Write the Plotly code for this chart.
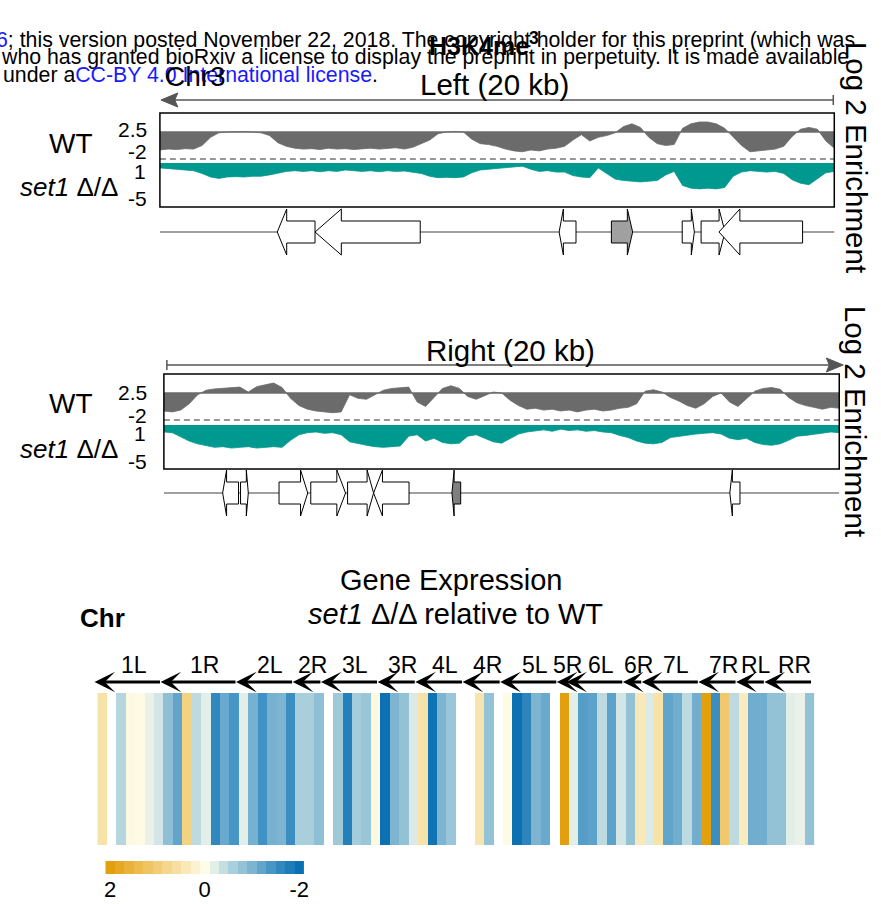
import plotly.graph_objects as go

W, H = 881, 904
FONT = "Liberation Sans, Arial, Helvetica, sans-serif"


def X(p):
    return p / W


def Y(p):
    return 1 - p / H


# ------------------------------------------------------------------ data
# genomic bins (kb) for the 20 kb windows
bins_kb = [i * 0.25 for i in range(81)]

left_wt = [-2.0, -1.9, -1.95, -1.85, -1.9, -1.5, -0.6, -0.1, 0.0, 0.05,
           0.05, 0.0, -0.1, -0.4, -1.2, -1.6, -1.8, -1.9, -1.85, -1.95,
           -1.8, -1.9, -1.85, -1.95, -1.9, -1.8, -1.9, -1.85, -1.75, -1.9,
           -1.7, -1.3, -0.9, -0.2, 0.0, 0.05, 0.0, -0.8, -1.3, -1.4,
           -1.6, -1.9, -2.1, -2.2, -2.0, -2.1, -1.9, -1.8, -1.6, -0.9,
           -0.3, -1.0, -0.6, -0.4, -0.1, 0.6, 0.9, 0.5, -0.6, -1.3,
           -1.5, -1.4, 0.4, 0.9, 1.1, 1.1, 0.9, 0.4, -0.6, -1.5,
           -2.2, -2.1, -2.0, -1.9, -1.6, -0.5, 0.3, 0.5, 0.3, -1.0,
           -1.8]

left_set1 = [-0.7, -0.8, -1.0, -1.0, -1.1, -1.5, -2.0, -2.2, -2.0, -1.95,
             -2.0, -1.9, -1.9, -1.7, -1.4, -1.2, -1.1, -1.2, -1.1, -1.25,
             -1.1, -1.2, -1.0, -1.15, -1.2, -1.1, -1.25, -1.1, -1.2, -1.15,
             -1.3, -1.5, -1.9, -2.1, -2.05, -2.1, -2.0, -1.4, -1.0, -0.9,
             -0.8, -0.75, -0.6, -0.45, -0.9, -1.2, -1.1, -1.3, -1.3, -1.8,
             -2.0, -2.1, -0.7, -1.5, -2.3, -2.5, -2.6, -2.7, -2.6, -2.5,
             -1.7, -1.2, -3.2, -3.6, -3.7, -3.6, -3.7, -3.5, -1.9, -1.3,
             -1.1, -1.2, -1.3, -1.2, -1.5, -2.4, -2.9, -3.1, -2.2, -1.4,
             -1.2]

right_wt = [-2.0, -2.1, -1.9, -1.2, -0.2, 0.3, 0.45, 0.5, 0.55, 0.65,
            0.1, 0.7, 0.9, 1.1, 0.6, -0.6, -1.4, -1.8, -2.0, -2.1,
            -2.2, -2.1, -0.2, -0.6, -0.7, -0.2, 0.3, 0.5, 0.55, 0.65,
            -1.0, -1.5, -0.5, 0.5, 0.8, 0.5, -0.4, -0.7, -0.3, 0.1,
            0.0, -0.8, -1.4, -1.8, -1.7, -1.9, -1.8, -2.0, -1.9, -2.1,
            -1.9, -1.8, -2.0, -1.9, -1.7, -1.6, -1.2, 0.2, 0.35, 0.1,
            -0.5, -0.9, -1.4, -1.7, -1.2, -0.4, 0.0, -1.0, -1.5, -0.6,
            0.2, 0.5, 0.6, 0.4, -0.5, -1.1, -1.4, -1.6, -1.8, -1.6,
            -1.7]

right_set1 = [-1.0, -1.1, -1.7, -2.3, -2.7, -3.0, -3.2, -3.1, -3.3, -3.2,
              -3.1, -3.3, -3.2, -3.1, -3.2, -2.2, -1.4, -1.1, -1.0, -1.2,
              -1.1, -1.4, -2.4, -2.7, -2.9, -3.1, -3.2, -3.1, -3.0, -1.6,
              -1.4, -2.3, -1.9, -2.5, -2.7, -2.6, -1.6, -1.4, -1.9, -2.4,
              -2.6, -2.0, -1.3, -1.0, -0.8, -0.7, -0.9, -0.6, -0.8, -0.7,
              -0.9, -0.8, -1.0, -1.1, -1.5, -1.8, -2.3, -2.6, -2.7, -2.5,
              -1.8, -1.6, -1.4, -1.3, -1.2, -1.1, -1.3, -1.9, -2.1, -1.9,
              -2.5, -2.8, -2.9, -2.7, -2.2, -1.6, -1.5, -1.3, -1.1, -1.0,
              -1.1]

# genes (kb within window)
left_gene_start = [3.48, 4.60, 11.84, 13.39, 15.49, 16.05, 16.58]
left_gene_end = [4.60, 7.72, 12.34, 14.02, 15.85, 16.76, 19.06]
left_gene_strand = ['-', '-', '-', '+', '+', '+', '-']
left_gene_marked = [False, False, False, True, False, False, False]

right_gene_start = [1.74, 2.27, 3.41, 4.35, 5.44, 6.21, 8.53, 16.76]
right_gene_end = [2.21, 2.50, 4.26, 5.38, 6.21, 7.26, 8.79, 17.06]
right_gene_strand = ['-', '+', '+', '+', '+', '-', '-', '-']
right_gene_marked = [False, False, False, False, False, False, True, False]

# gene expression (log2 set1/WT), one value per subtelomeric gene (None = no data)
expr_values = [0.55, None, -0.5, 0.05, 0.02, -0.15, -0.3, -0.85, -1.2, 0.9,
               -0.45, -0.2, -1.6, -1.15, -1.4, -0.2, -1.05, -1.45, -1.05, -1.0,
               -1.5, -0.6, -0.6, -0.85, None, -0.7, -1.75, -0.65, -0.75, 0.05,
               -2.0, -1.0, -0.8, -0.25, 0.55, -1.95, -1.0, -0.75, None, None,
               0.5, -0.8, None, 0.02, -2.0, -1.65, -1.0, -1.15, None, 2.0,
               -0.2, -1.3, -1.25, -0.45, -1.25, -0.3, -0.8, 0.4, -0.25, 0.55,
               -1.2, -1.1, -0.45, -1.1, 2.0, -1.5, 1.1, -0.45, 0.35, -1.1,
               -1.1, -0.8, -0.8, -0.2, -0.15, -0.8]

arm_names = ["1L", "1R", "2L", "2R", "3L", "3R", "4L", "4R", "5L", "5R",
             "6L", "6R", "7L", "7R", "RL", "RR"]
arm_first = [0, 7, 15, 21, 24, 30, 34, 39, 43, 49, 50, 56, 58, 64, 68, 71]
arm_last = [6, 14, 20, 23, 29, 33, 38, 42, 48, 49, 55, 57, 63, 67, 70, 75]

legend_ramp = [2.0, 1.8, 1.6, 1.4, 1.2, 1.0, 0.8, 0.6, 0.4, 0.2, 0.0,
               -0.2, -0.4, -0.6, -0.8, -1.0, -1.2, -1.4, -1.6, -1.8, -2.0]
legend_ticks = [2, 0, -2]
legend_ticktext = ["2", "0", "-2"]

# ------------------------------------------------------------------ styles
GRAY = "#6b6b6b"
TEAL = "#00998f"
COLORSCALE = [[0.0, "#0b71b2"], [0.125, "#3a8ec2"], [0.25, "#7db5d1"],
              [0.375, "#b5d6df"], [0.45, "#e2eee8"], [0.5, "#fefbe6"],
              [0.625, "#f8e4ae"], [0.75, "#f2cd76"], [0.875, "#ecb744"],
              [1.0, "#e3a00d"]]

fig = go.Figure()

# ------------------------------------------------------------------ tracks
def add_track(xa, ya_wt, ya_s1, wt, s1):
    fig.add_trace(go.Scatter(x=bins_kb, y=wt, xaxis=xa, yaxis=ya_wt, mode="lines",
                             line=dict(color=GRAY, width=0.8), fill="tozeroy",
                             fillcolor=GRAY, hoverinfo="skip"))
    fig.add_trace(go.Scatter(x=bins_kb, y=s1, xaxis=xa, yaxis=ya_s1, mode="lines",
                             line=dict(color=TEAL, width=0.8), fill="tozeroy",
                             fillcolor=TEAL, hoverinfo="skip"))


add_track("x", "y", "y2", left_wt, left_set1)
add_track("x2", "y4", "y5", right_wt, right_set1)

# gene backbones
fig.add_trace(go.Scatter(x=[-0.09, 20.03], y=[0, 0], xaxis="x", yaxis="y3", mode="lines",
                         line=dict(color="#808080", width=1.5), hoverinfo="skip"))
fig.add_trace(go.Scatter(x=[0, 20], y=[0, 0], xaxis="x2", yaxis="y6", mode="lines",
                         line=dict(color="#808080", width=1.5), hoverinfo="skip"))

# heatmap
fig.add_trace(go.Heatmap(z=[expr_values], x=list(range(len(expr_values))), y=[0],
                         xaxis="x3", yaxis="y7", colorscale=COLORSCALE, zmin=-2, zmax=2,
                         showscale=False, hoverinfo="skip"))
# legend ramp
fig.add_trace(go.Heatmap(z=[legend_ramp], x=legend_ramp, y=[0], xaxis="x4", yaxis="y8",
                         colorscale=COLORSCALE, zmin=-2, zmax=2, showscale=False,
                         hoverinfo="skip"))

shapes = []


def gene_shapes(starts, ends, strands, marked, xref, yref, mark_color):
    out = []
    for s, e, st, mk in zip(starts, ends, strands, marked):
        head = 0.25 * (e - s)
        if st == '+':
            tail, base, tip = s, e - head, e
        else:
            tail, base, tip = e, s + head, s
        pts = [(tail, -11), (base, -11), (base, -23), (tip, 0), (base, 23), (base, 11), (tail, 11)]
        path = "M " + " L ".join(f"{a:.3f},{b}" for a, b in pts) + " Z"
        out.append(dict(type="path", path=path, xref=xref, yref=yref,
                        fillcolor=(mark_color if mk else "white"),
                        line=dict(color="black", width=1)))
    return out


shapes += gene_shapes(left_gene_start, left_gene_end, left_gene_strand, left_gene_marked,
                      "x", "y3", "#a0a0a0")
shapes += gene_shapes(right_gene_start, right_gene_end, right_gene_strand, right_gene_marked,
                      "x2", "y6", "#7f7f7f")

# baselines, dashed separators, frames
for xa, ya, x0, x1, ydash, ytop, ybot in [("x", "y", 160, 839, 159, 113, 207),
                                          ("x2", "y4", 164, 844, 420, 374, 469)]:
    shapes.append(dict(type="line", xref=xa, yref=ya, x0=0, x1=20, y0=0, y1=0,
                       line=dict(color=GRAY, width=1.5)))
    shapes.append(dict(type="line", xref="paper", yref="paper", x0=X(x0), x1=X(x1),
                       y0=Y(ydash), y1=Y(ydash), line=dict(color="#777777", width=1.3, dash="6px,4px")))
    shapes.append(dict(type="rect", xref="paper", yref="paper", x0=X(x0), x1=X(x1),
                       y0=Y(ybot), y1=Y(ytop), line=dict(color="black", width=1.5)))

# window arrows
ARC = "#555555"
shapes.append(dict(type="line", xref="paper", yref="paper", x0=X(170), x1=X(838), y0=Y(100), y1=Y(100),
                   line=dict(color=ARC, width=1.5)))
shapes.append(dict(type="line", xref="paper", yref="paper", x0=X(838), x1=X(838), y0=Y(95), y1=Y(105),
                   line=dict(color=ARC, width=1.5)))
shapes.append(dict(type="path", xref="paper", yref="paper",
                   path=f"M {X(161)},{Y(100)} L {X(178)},{Y(93)} L {X(175)},{Y(100)} L {X(178)},{Y(107)} Z",
                   fillcolor=ARC, line=dict(color=ARC, width=1)))
shapes.append(dict(type="line", xref="paper", yref="paper", x0=X(167), x1=X(838), y0=Y(365), y1=Y(365),
                   line=dict(color=ARC, width=1.5)))
shapes.append(dict(type="line", xref="paper", yref="paper", x0=X(167), x1=X(167), y0=Y(360), y1=Y(370),
                   line=dict(color=ARC, width=1.5)))
shapes.append(dict(type="path", xref="paper", yref="paper",
                   path=f"M {X(848)},{Y(365)} L {X(831)},{Y(358)} L {X(834)},{Y(365)} L {X(831)},{Y(372)} Z",
                   fillcolor=ARC, line=dict(color=ARC, width=1)))

annotations = []


def txt(s, x, y, size, xanchor="center", bold=False, angle=0, yanchor="middle"):
    if bold:
        s = f"<b>{s}</b>"
    annotations.append(dict(text=s, x=X(x), y=Y(y), xref="paper", yref="paper", showarrow=False,
                            xanchor=xanchor, yanchor=yanchor, textangle=angle,
                            font=dict(family=FONT, size=size, color="black")))


BLUE = "#1a1aff"
txt(f"<span style='color:{BLUE}'>6</span>; this version posted November 22, 2018. The copyright holder for this preprint (which was",
    -7, 40, 21.3, xanchor="left")
txt("who has granted bioRxiv a license to display the preprint in perpetuity. It is made available",
    -2, 57, 21.3, xanchor="left")
txt(f"under a<span style='color:{BLUE}'>CC-BY 4.0 International license</span>.",
    0, 75, 21.3, xanchor="left")

txt("H3K4me<sup>3</sup>", 486, 44, 25, bold=True)
txt("Chr3", 196, 76, 28)
txt("Left (20 kb)", 497, 85, 29.5)
txt("Right (20 kb)", 513, 350, 29.5)

for yw, ys, t25, tm2, t1, tm5 in [(143, 187, 129, 151, 172, 199), (404, 449, 392, 415, 433, 462)]:
    txt("WT", 70, yw, 28)
    txt("<i>set1</i> Δ/Δ", 68, ys, 26)
    txt("2.5", 149, t25, 21, xanchor="right")
    txt("-2", 149, tm2, 21, xanchor="right")
    txt("1", 148, t1, 21, xanchor="right")
    txt("-5", 149, tm5, 21, xanchor="right")

txt("Log 2 Enrichment", 861, 157, 29.5, angle=90)
txt("Log 2 Enrichment", 861, 421, 29.5, angle=90)

txt("Gene Expression", 453, 580, 29)
txt("<i>set1</i> Δ/Δ relative to WT", 458, 614, 29)
txt("Chr", 102, 618, 26, bold=True)

# chromosome arm arrows and labels
for name, a, b in zip(arm_names, arm_first, arm_last):
    annotations.append(dict(x=a - 0.5 - 0.3, y=Y(682), xref="x3", yref="paper",
                            ax=b + 0.5 - 0.2, ay=0, axref="x3", ayref="pixel",
                            text="", showarrow=True, arrowhead=3, arrowsize=1.15,
                            arrowwidth=3, arrowcolor="black"))
    annotations.append(dict(x=(a + b) / 2 + 0.35, y=Y(665), xref="x3", yref="paper",
                            text=name, showarrow=False, xanchor="center", yanchor="middle",
                            font=dict(family=FONT, size=23, color="black")))

hidden = dict(visible=False, fixedrange=True)
fig.update_layout(
    width=W, height=H, margin=dict(l=0, r=0, t=0, b=0),
    paper_bgcolor="white", plot_bgcolor="rgba(0,0,0,0)", showlegend=False,
    xaxis=dict(domain=[X(160), X(839)], range=[0, 20], anchor="y2", **hidden),
    yaxis=dict(domain=[Y(159), Y(113)], range=[-3.0, 2.1], anchor="x", **hidden),
    yaxis2=dict(domain=[Y(207), Y(159)], range=[-6.29, 0.57], anchor="x", **hidden),
    yaxis3=dict(domain=[Y(262), Y(202)], range=[-30, 30], anchor="x", **hidden),
    xaxis2=dict(domain=[X(164), X(844)], range=[0, 20], anchor="y5", **hidden),
    yaxis4=dict(domain=[Y(420), Y(374)], range=[-3.0, 2.1], anchor="x2", **hidden),
    yaxis5=dict(domain=[Y(469), Y(420)], range=[-6.29, 0.71], anchor="x2", **hidden),
    yaxis6=dict(domain=[Y(523), Y(463)], range=[-30, 30], anchor="x2", **hidden),
    xaxis3=dict(domain=[X(97), X(819)], range=[-0.5, 75.5], anchor="y7", **hidden),
    yaxis7=dict(domain=[Y(845), Y(693)], range=[-0.5, 0.5], anchor="x3", **hidden),
    xaxis4=dict(domain=[X(105), X(305)], range=[2.1, -2.1], anchor="y8", fixedrange=True,
                showgrid=False, zeroline=False, showline=False, ticks="",
                tickvals=legend_ticks, ticktext=legend_ticktext,
                tickfont=dict(family=FONT, size=22, color="black")),
    yaxis8=dict(domain=[Y(874), Y(861)], range=[-0.5, 0.5], anchor="x4", **hidden),
    shapes=shapes, annotations=annotations,
)

fig.write_html("out.html")
